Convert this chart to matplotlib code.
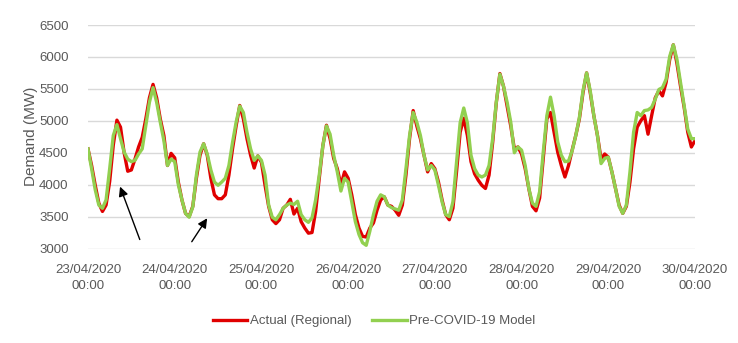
import matplotlib
matplotlib.use("Agg")
import matplotlib.pyplot as plt
import matplotlib.dates as mdates
import pandas as pd

# Hourly readings, 23/04/2020 00:00 to 30/04/2020 00:00 (MW)
actual_regional = [
    4560, 4300, 3990, 3710, 3580, 3680, 4050, 4620, 5010, 4900, 4500, 4210,
    4230, 4400, 4590, 4740, 5030, 5360, 5570, 5360, 5030, 4770, 4300, 4490,
    4420, 4040, 3760, 3550, 3500, 3660, 4100, 4460, 4640, 4460, 4100, 3840,
    3780, 3780, 3840, 4150, 4560, 4920, 5240, 5030, 4720, 4460, 4260, 4450,
    4350, 3990, 3660, 3450, 3390, 3450, 3630, 3680, 3770, 3540, 3630, 3420,
    3320, 3240, 3250, 3580, 4100, 4610, 4930, 4720, 4410, 4250, 3990, 4200,
    4100, 3840, 3530, 3320, 3190, 3180, 3320, 3400, 3600, 3760, 3810, 3680,
    3660, 3600, 3520, 3680, 4150, 4720, 5160, 4920, 4720, 4460, 4200, 4330,
    4250, 4040, 3760, 3530, 3450, 3630, 4200, 4820, 5040, 4770, 4360, 4170,
    4070, 3990, 3940, 4150, 4660, 5280, 5740, 5540, 5230, 4920, 4560, 4590,
    4480, 4250, 3940, 3660, 3590, 3790, 4410, 5030, 5130, 4820, 4510, 4300,
    4120, 4300, 4540, 4770, 5030, 5440, 5750, 5440, 5080, 4770, 4400, 4480,
    4430, 4200, 3940, 3680, 3550, 3660, 4040, 4560, 4900, 5000, 5080, 4790,
    5080, 5360, 5470, 5390, 5600, 5960, 6190, 5900, 5540, 5210, 4820, 4590,
    4690,
]
pre_covid_model = [
    4560, 4250, 3920, 3680, 3630, 3760, 4250, 4770, 4940, 4720, 4510, 4400,
    4360, 4380, 4480, 4560, 4920, 5290, 5520, 5290, 4980, 4690, 4300, 4400,
    4360, 4000, 3760, 3550, 3490, 3650, 4150, 4510, 4640, 4480, 4230, 4040,
    3990, 4040, 4100, 4300, 4660, 4980, 5230, 5130, 4820, 4560, 4380, 4450,
    4380, 4150, 3680, 3490, 3450, 3530, 3630, 3680, 3710, 3690, 3740, 3530,
    3450, 3410, 3480, 3760, 4150, 4610, 4920, 4790, 4460, 4200, 3900, 4100,
    4040, 3730, 3420, 3220, 3090, 3050, 3270, 3530, 3740, 3840, 3810, 3680,
    3640, 3620, 3600, 3760, 4250, 4770, 5130, 4980, 4770, 4460, 4230, 4300,
    4230, 3990, 3730, 3530, 3500, 3730, 4350, 4970, 5200, 4970, 4460, 4250,
    4150, 4120, 4150, 4300, 4720, 5290, 5730, 5540, 5290, 4980, 4500, 4590,
    4540, 4300, 3940, 3710, 3660, 3890, 4510, 5080, 5370, 5080, 4670, 4460,
    4360, 4370, 4530, 4770, 5050, 5470, 5750, 5470, 5080, 4770, 4330, 4410,
    4430, 4200, 3940, 3660, 3550, 3680, 4200, 4820, 5130, 5080, 5160, 5170,
    5210, 5340, 5490, 5520, 5650, 6010, 6190, 5960, 5600, 5230, 4870, 4720,
    4720,
]
series_labels = ["Actual (Regional)", "Pre-COVID-19 Model"]
y_ticks = [3000, 3500, 4000, 4500, 5000, 5500, 6000, 6500]
y_label = "Demand (MW)"

times = pd.date_range("2020-04-23 00:00", periods=len(actual_regional), freq="h")

FONT = "Liberation Sans"
TXT = "#595959"

fig = plt.figure(figsize=(7.38, 3.43), dpi=100)
ax = fig.add_axes([88 / 738, 1 - 248.5 / 343, (695 - 88) / 738, (248.5 - 25) / 343])

ax.plot(times, actual_regional, color="#E00000", lw=2.4, label=series_labels[0],
        solid_joinstyle="round", zorder=3)
ax.plot(times, pre_covid_model, color="#92D050", lw=2.4, label=series_labels[1],
        solid_joinstyle="round", zorder=4)

ax.set_xlim(times[0], times[-1])
ax.set_ylim(y_ticks[0], y_ticks[-1])
ax.set_yticks(y_ticks)
ax.xaxis.set_major_locator(mdates.DayLocator())
ax.xaxis.set_major_formatter(mdates.DateFormatter("%d/%m/%Y\n%H:%M"))

for s in ax.spines.values():
    s.set_visible(False)
ax.grid(axis="y", color="#D9D9D9", lw=1)
ax.set_axisbelow(True)
ax.tick_params(axis="both", length=0, labelcolor=TXT, labelsize=9.5)
ax.tick_params(axis="y", pad=14)
ax.tick_params(axis="x", pad=11)
for lab in ax.get_xticklabels() + ax.get_yticklabels():
    lab.set_fontfamily(FONT)
for lab in ax.get_xticklabels():
    lab.set_linespacing(1.5)

ax.set_ylabel(y_label, color=TXT, fontsize=11, family=FONT, labelpad=1)

# arrows
t0 = times[0]
def T(h):
    return t0 + pd.Timedelta(hours=h)
ax.annotate("", xy=(T(8.6), 4010), xytext=(T(14.6), 3100),
            arrowprops=dict(arrowstyle="-|>", color="black", lw=1, mutation_scale=14),
            annotation_clip=False)
ax.annotate("", xy=(T(33.4), 3510), xytext=(T(28.3), 3070),
            arrowprops=dict(arrowstyle="-|>", color="black", lw=1, mutation_scale=14),
            annotation_clip=False)

leg = fig.legend(loc="center", bbox_to_anchor=(374 / 738, 1 - 321 / 343), ncol=2,
                 frameon=False, handlelength=2.6, columnspacing=1.6, handletextpad=0.2,
                 prop={"family": FONT, "size": 9.5})
for t in leg.get_texts():
    t.set_color(TXT)

fig.savefig("out.png", dpi=100)
